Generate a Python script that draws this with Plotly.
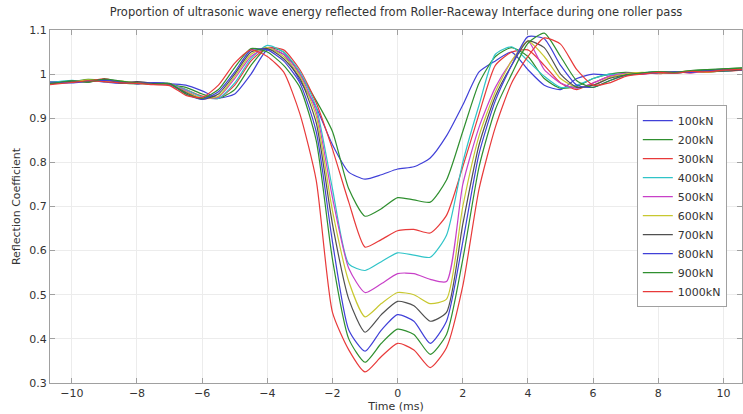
import plotly.graph_objects as go

time_ms = [-10.7, -10, -9.5, -9, -8.5, -8, -7.5, -7, -6.5, -6, -5.5, -5, -4.5, -4, -3.5, -3,
           -2.5, -2, -1.5, -1, -0.5, 0, 0.5, 1, 1.5, 2, 2.5, 3, 3.5, 4, 4.5, 5, 5.5, 6,
           6.5, 7, 7.5, 8, 8.5, 9, 9.5, 10, 10.7]

loads = ["100kN", "200kN", "300kN", "400kN", "500kN", "600kN", "700kN", "800kN", "900kN", "1000kN"]

r100 = [0.980, 0.984, 0.986, 0.982, 0.979, 0.981, 0.978, 0.978, 0.975, 0.962, 0.946, 0.955, 1.000, 1.055, 1.045, 0.985,
        0.925, 0.840, 0.778, 0.762, 0.772, 0.785, 0.790, 0.810, 0.860, 0.930, 1.005, 1.030, 1.050, 1.010, 0.975, 0.965, 0.990, 1.000,
        0.998, 1.001, 1.000, 1.004, 1.002, 1.006, 1.004, 1.008, 1.010]
r200 = [0.982, 0.983, 0.988, 0.985, 0.980, 0.978, 0.980, 0.976, 0.970, 0.955, 0.945, 0.965, 1.020, 1.060, 1.050, 1.000,
        0.940, 0.870, 0.740, 0.678, 0.695, 0.720, 0.715, 0.710, 0.760, 0.870, 0.980, 1.040, 1.060, 1.040, 0.990, 0.968, 0.972, 0.990,
        1.000, 1.004, 1.002, 1.006, 1.004, 1.008, 1.010, 1.012, 1.015]
r300 = [0.978, 0.982, 0.984, 0.990, 0.982, 0.980, 0.977, 0.978, 0.965, 0.950, 0.945, 0.975, 1.030, 1.060, 1.055, 1.010,
        0.935, 0.830, 0.710, 0.608, 0.625, 0.645, 0.648, 0.640, 0.680, 0.790, 0.910, 1.020, 1.050, 1.055, 1.020, 0.980, 0.965, 0.980,
        0.995, 1.000, 1.003, 1.001, 1.005, 1.003, 1.007, 1.006, 1.010]
r400 = [0.981, 0.986, 0.983, 0.987, 0.984, 0.979, 0.981, 0.977, 0.965, 0.948, 0.945, 0.980, 1.035, 1.065, 1.050, 1.005,
        0.925, 0.740, 0.570, 0.555, 0.575, 0.595, 0.590, 0.585, 0.635, 0.800, 0.930, 1.045, 1.062, 1.030, 0.995, 0.970, 0.975, 0.990,
        1.000, 0.998, 1.003, 1.005, 1.002, 1.006, 1.008, 1.006, 1.012]
r500 = [0.979, 0.983, 0.985, 0.984, 0.981, 0.982, 0.978, 0.975, 0.962, 0.945, 0.948, 0.990, 1.040, 1.060, 1.045, 1.000,
        0.915, 0.720, 0.560, 0.505, 0.525, 0.548, 0.548, 0.535, 0.530, 0.750, 0.880, 0.970, 1.030, 1.075, 1.010, 0.980, 0.968, 0.980,
        0.995, 1.002, 1.000, 1.004, 1.006, 1.003, 1.007, 1.009, 1.008]
r600 = [0.980, 0.982, 0.987, 0.983, 0.985, 0.979, 0.980, 0.976, 0.960, 0.945, 0.950, 0.995, 1.045, 1.060, 1.040, 0.995,
        0.905, 0.690, 0.530, 0.450, 0.480, 0.505, 0.500, 0.480, 0.490, 0.700, 0.860, 0.960, 1.030, 1.075, 1.040, 0.990, 0.970, 0.975,
        0.992, 1.000, 1.004, 1.002, 1.005, 1.007, 1.004, 1.008, 1.011]
r700 = [0.977, 0.984, 0.982, 0.988, 0.980, 0.983, 0.979, 0.977, 0.958, 0.943, 0.955, 1.000, 1.050, 1.058, 1.035, 0.990,
        0.890, 0.660, 0.490, 0.415, 0.455, 0.485, 0.475, 0.440, 0.460, 0.660, 0.840, 0.950, 1.020, 1.075, 1.060, 1.000, 0.970, 0.975,
        0.990, 0.998, 1.002, 1.004, 1.003, 1.006, 1.008, 1.007, 1.010]
r800 = [0.982, 0.980, 0.984, 0.986, 0.983, 0.978, 0.981, 0.978, 0.955, 0.943, 0.960, 1.005, 1.055, 1.055, 1.030, 0.980,
        0.870, 0.620, 0.420, 0.372, 0.420, 0.455, 0.440, 0.390, 0.440, 0.620, 0.820, 0.940, 1.020, 1.085, 1.080, 1.020, 0.975, 0.970,
        0.985, 0.997, 1.001, 1.003, 1.006, 1.004, 1.009, 1.010, 1.012]
r900 = [0.978, 0.985, 0.982, 0.989, 0.984, 0.980, 0.977, 0.979, 0.955, 0.945, 0.965, 1.015, 1.058, 1.050, 1.020, 0.970,
        0.850, 0.580, 0.400, 0.347, 0.390, 0.422, 0.410, 0.365, 0.410, 0.580, 0.790, 0.920, 1.000, 1.070, 1.093, 1.040, 0.985, 0.970,
        0.985, 0.998, 1.003, 1.006, 1.004, 1.008, 1.010, 1.012, 1.014]
r1000 = [0.976, 0.981, 0.985, 0.983, 0.980, 0.979, 0.976, 0.974, 0.952, 0.947, 0.975, 1.025, 1.055, 1.040, 1.005, 0.910,
         0.760, 0.460, 0.375, 0.325, 0.360, 0.390, 0.375, 0.335, 0.380, 0.520, 0.740, 0.880, 0.980, 1.040, 1.082, 1.068, 1.010, 0.975,
         0.980, 0.995, 1.000, 1.004, 1.002, 1.006, 1.005, 1.009, 1.011]

series = [r100, r200, r300, r400, r500, r600, r700, r800, r900, r1000]
colors = ["#4040d8", "#2f8f2f", "#e83a3a", "#30c4c8", "#c840c8", "#c8c830", "#505050",
          "#4040d8", "#2f8f2f", "#e83a3a"]

fig = go.Figure()
for name, vals, col in zip(loads, series, colors):
    fig.add_trace(go.Scatter(x=time_ms, y=vals, mode="lines", name=name,
                             line=dict(color=col, width=1.2, shape="spline", smoothing=0.6)))

axis_common = dict(showline=True, linecolor="#a0a0a0", linewidth=1, mirror="ticks",
                   ticks="inside", ticklen=5, tickcolor="#a0a0a0",
                   showgrid=True, gridcolor="#ececec", zeroline=False, automargin=False,
                   tickfont=dict(family="DejaVu Sans", size=11, color="#333333"))

fig.update_layout(
    width=743, height=414,
    margin=dict(l=50, r=1, t=30, b=31),
    paper_bgcolor="white", plot_bgcolor="white",
    title=dict(text="Proportion of ultrasonic wave energy reflected from Roller-Raceway Interface during one roller pass",
               x=0.533, xanchor="center", y=0.97, yanchor="middle",
               font=dict(family="DejaVu Sans", size=11.5, color="#333333")),
    xaxis=dict(range=[-10.67, 10.57], tickvals=[-10, -8, -6, -4, -2, 0, 2, 4, 6, 8, 10],
               title=dict(text="Time (ms)", font=dict(family="DejaVu Sans", size=11, color="#333333"), standoff=0),
               **axis_common),
    yaxis=dict(range=[0.3, 1.1], tickvals=[0.3, 0.4, 0.5, 0.6, 0.7, 0.8, 0.9, 1.0, 1.1],
               ticktext=["0.3", "0.4", "0.5", "0.6", "0.7", "0.8", "0.9", "1", "1.1"],
               title=dict(text="Reflection Coefficient", font=dict(family="DejaVu Sans", size=11, color="#333333"), standoff=6),
               **axis_common),
    legend=dict(x=0.848, y=0.501, xanchor="left", yanchor="middle",
                bgcolor="white", bordercolor="#a0a0a0", borderwidth=1,
                font=dict(family="DejaVu Sans", size=11, color="#333333"),
                tracegroupgap=0, itemwidth=30),
    showlegend=True,
)

fig.write_html("out.html", config={"displayModeBar": False},
               post_script="document.body.style.margin='0px';")
